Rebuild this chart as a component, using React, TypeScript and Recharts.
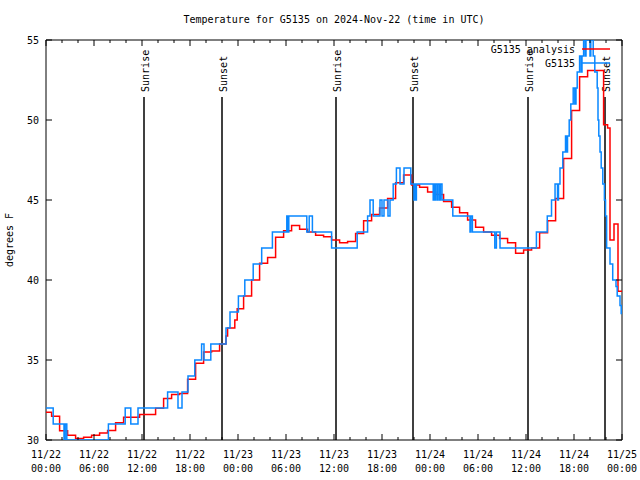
import { LineChart, Line, XAxis, YAxis, ReferenceLine, ReferenceArea, Legend } from 'recharts';

// analysis (hourly steps, finer near the end)
const redHours = [
  0, 0.7, 1.7, 2.7, 3.7, 4.7, 5.7, 6.7, 7.7, 8.7, 9.7, 11.7, 13.7, 14.7, 15.7, 16.7, 17.7, 18.7, 19.7,
  20.7, 21.7, 22.5, 22.7, 23.6, 23.9, 24.7, 25.7, 26.7, 27.7, 28.7, 29.7, 30.7, 31.7, 32.7, 33.7, 34.7,
  35.7, 36.7, 37.7, 38.7, 39.7, 40.7, 41.7, 42.7, 43.7, 44.7, 45.7, 46.7, 47.7, 48.7, 49.7, 50.7, 51.7,
  52.7, 53.7, 54.7, 55.7, 56.7, 57.7, 58.7, 59.7, 60.7, 61.7, 62.7, 63.7, 64.7, 65.7, 66.7, 67.7, 69.7,
  70.2, 70.5, 71.0, 71.5, 72,
];
const redTemps = [
  31.73, 31.48, 30.58, 30.29, 30.1, 30.17, 30.29, 30.44, 30.6, 31.08, 31.42, 31.6, 31.98, 32.6, 32.85, 32.9, 33.8, 34.8, 35.5,
  35.56, 36.0, 36.5, 37.0, 37.5, 38.2, 39.0, 40.0, 41.04, 41.4, 42.67, 43.08, 43.4, 43.17, 43.0, 42.8, 42.7,
  42.5, 42.33, 42.4, 42.9, 43.7, 44.1, 44.5, 45.1, 46.08, 46.56, 45.94, 45.8, 45.5, 45.35, 44.9, 44.54, 44.2,
  43.75, 43.3, 43.0, 42.8, 42.6, 42.33, 41.67, 41.88, 42.0, 42.96, 43.7, 45.1, 47.6, 50.6, 52.7, 53.1, 49.7,
  49.5, 42.5, 43.5, 39.3, 39.3,
];

// observations
const blueHours = [
  0, 0.9, 2.25, 2.4, 2.6, 7.8, 9.9, 10.6, 11.5, 15.2, 16.5, 17.0, 17.75, 18.6, 19.45, 19.75, 20.6, 22.5,
  23.0, 24.05, 24.85, 25.9, 26.96, 28.3, 30.1, 30.2, 30.35, 32.6, 32.9, 33.3, 35.7, 38.9, 40.2, 40.5, 40.9,
  41.75, 42.0, 42.25, 42.75, 43.0, 43.4, 43.8, 44.25, 44.75, 45.6, 46.0, 46.1, 46.2, 46.3, 48.4, 48.5,
  48.6, 48.7, 48.9, 49.0, 49.2, 49.3, 49.5, 50.85, 53.0, 53.1, 53.3, 56.1, 56.3, 56.75, 61.3, 62.66,
  63.19, 63.63, 63.94, 64.06, 64.25, 64.6, 64.94, 65.06, 65.19, 65.4, 65.6, 65.9, 66.1, 66.25, 66.4,
  66.7, 66.9, 67.0, 67.2, 67.4, 67.5, 68.0, 68.1, 68.4, 68.6, 68.9, 69.0, 69.1, 69.25, 69.4, 69.6, 69.8,
  69.94, 70.08, 70.5, 70.84, 71.25, 71.4, 71.75, 71.9, 72,
];
const blueTemps = [
  32, 31, 30, 31, 30, 31, 32, 31, 32, 33, 32, 33, 34, 35, 36, 35, 36, 37,
  38, 39, 40, 41, 42, 43, 44, 43, 44, 43, 44, 43, 42, 43, 44, 45, 44,
  45, 44, 45, 44, 45, 46, 47, 46, 47, 46, 45, 46, 45, 46, 45, 46,
  45, 46, 45, 46, 45, 46, 45, 44, 43, 44, 43, 42, 43, 42, 43, 44,
  45, 46, 45, 46, 47, 48, 49, 48, 49, 50, 51, 52, 51, 52, 53,
  54, 53, 54, 55, 54, 55, 54, 55, 54, 53, 52, 50, 49, 48, 47, 46, 45,
  44, 42, 41, 40, 39.6, 39, 38.4, 37.9, 37.9,
];

const tickHours = [0, 2, 4, 6, 8, 10, 12, 14, 16, 18, 20, 22, 24, 26, 28, 30, 32, 34, 36, 38, 40, 42, 44, 46, 48, 50, 52, 54, 56, 58, 60, 62, 64, 66, 68, 70, 72];
const tickDates = ['11/22', '11/22', '11/22', '11/22', '11/23', '11/23', '11/23', '11/23', '11/24', '11/24', '11/24', '11/24', '11/25'];
const tickTimes = ['00:00', '06:00', '12:00', '18:00', '00:00', '06:00', '12:00', '18:00', '00:00', '06:00', '12:00', '18:00', '00:00'];
const yTicks = [30, 35, 40, 45, 50, 55];

const sunHours = [12.25, 22, 36.25, 45.875, 60.25, 69.875];
const sunLabels = ['Sunrise', 'Sunset', 'Sunrise', 'Sunset', 'Sunrise', 'Sunset'];

const analysisData = redHours.map((t, i) => ({ t, v: redTemps[i] }));
const obsData = blueHours.map((t, i) => ({ t, v: blueTemps[i] }));

const FONT = '"DejaVu Sans Mono", "Liberation Mono", monospace';
const RED = '#ff0000';
const BLUE = '#0a88ff';
const TOP = 40;
const BOTTOM = 440;
const LEFT = 46;
const RIGHT = 622;

function XTick({ x, payload }: any) {
  const h = payload.value;
  const major = h % 6 === 0;
  const len = major ? 6 : 3;
  const idx = h / 6;
  return (
    <g>
      <line x1={x} y1={BOTTOM} x2={x} y2={BOTTOM - len} stroke="#000" />
      <line x1={x} y1={TOP} x2={x} y2={TOP + len} stroke="#000" />
      {major && (
        <text x={x} y={458} textAnchor="middle" fontSize={10} fontFamily={FONT} fill="#000">
          {tickDates[idx]}
        </text>
      )}
      {major && (
        <text x={x} y={472} textAnchor="middle" fontSize={10} fontFamily={FONT} fill="#000">
          {tickTimes[idx]}
        </text>
      )}
    </g>
  );
}

function YTick({ y, payload }: any) {
  return (
    <g>
      <line x1={LEFT} y1={y} x2={LEFT + 6} y2={y} stroke="#000" />
      <line x1={RIGHT} y1={y} x2={RIGHT - 6} y2={y} stroke="#000" />
      <text x={39} y={y + 3.5} textAnchor="end" fontSize={10} fontFamily={FONT} fill="#000">
        {payload.value}
      </text>
    </g>
  );
}

function SunLabel({ viewBox, text }: any) {
  const x = viewBox.x + 4.5;
  const y = viewBox.y - 5;
  return (
    <text transform={`translate(${x},${y}) rotate(-90)`} fontSize={10} fontFamily={FONT} fill="#000">
      {text}
    </text>
  );
}

function AxisTitle({ viewBox }: any) {
  const cy = viewBox.y + viewBox.height / 2;
  return (
    <text transform={`translate(13,${cy}) rotate(-90)`} textAnchor="middle" fontSize={10} fontFamily={FONT} fill="#000">
      degrees F
    </text>
  );
}

function KeyBox() {
  return (
    <svg width={140} height={32} style={{ display: 'block', overflow: 'visible' }}>
      <text x={95} y={12.5} textAnchor="end" fontSize={10} fontFamily={FONT} fill="#000">G5135 analysis</text>
      <line x1={102} y1={9} x2={130} y2={9} stroke={RED} strokeWidth={1.5} />
      <text x={95} y={26.5} textAnchor="end" fontSize={10} fontFamily={FONT} fill="#000">G5135</text>
      <line x1={102} y1={23} x2={130} y2={23} stroke={BLUE} strokeWidth={1.5} />
    </svg>
  );
}

export default function App() {
  return (
    <div style={{ position: 'absolute', left: 0, top: 0, width: 640, height: 480, background: '#fff', fontFamily: FONT }}>
      <div style={{ position: 'absolute', top: 14, left: 0, width: 668, textAlign: 'center', fontSize: 10, lineHeight: '12px' }}>
        Temperature for G5135 on 2024-Nov-22 (time in UTC)
      </div>
      <LineChart width={640} height={480} margin={{ top: TOP, right: 640 - RIGHT, bottom: 0, left: 0 }}>
        <XAxis
          type="number"
          dataKey="t"
          domain={[0, 72]}
          ticks={tickHours}
          interval={0}
          tick={<XTick />}
          tickLine={false}
          axisLine={false}
          height={480 - BOTTOM}
          allowDataOverflow
        />
        <YAxis
          type="number"
          domain={[30, 55]}
          ticks={yTicks}
          interval={0}
          tick={<YTick />}
          tickLine={false}
          axisLine={false}
          width={LEFT}
          allowDataOverflow
          label={<AxisTitle />}
        />
        <Legend
          layout="vertical"
          align="center"
          verticalAlign="middle"
          content={() => <KeyBox />}
          wrapperStyle={{ top: 40, left: 480, width: 140, height: 32 }}
        />
        {sunHours.map((h, i) => (
          <ReferenceLine
            key={i}
            segment={[{ x: h, y: 30 }, { x: h, y: 51.44 }]}
            stroke="#000"
            strokeWidth={1.5}
            label={<SunLabel text={sunLabels[i]} />}
          />
        ))}
        <Line
          data={analysisData}
          dataKey="v"
          name="G5135 analysis"
          type="stepAfter"
          stroke={RED}
          strokeWidth={1.5}
          dot={false}
          isAnimationActive={false}
        />
        <Line
          data={obsData}
          dataKey="v"
          name="G5135"
          type="stepAfter"
          stroke={BLUE}
          strokeWidth={1.5}
          dot={false}
          isAnimationActive={false}
        />
        <ReferenceArea x1={0} x2={72} y1={30} y2={55} fill="none" stroke="#000" strokeWidth={1} />
      </LineChart>
    </div>
  );
}
